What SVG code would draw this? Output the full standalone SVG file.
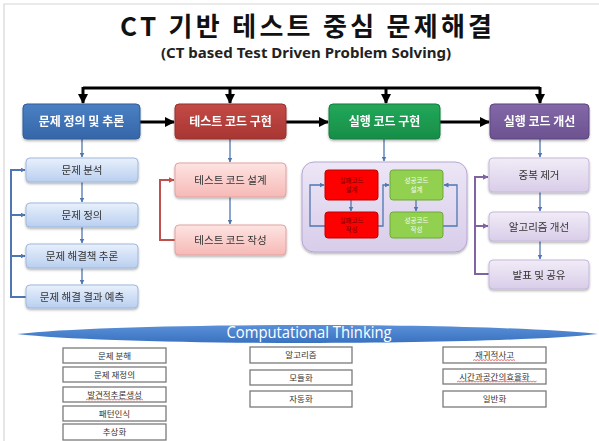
<svg xmlns="http://www.w3.org/2000/svg" width="599" height="441" viewBox="0 0 599 441">
<style>
.kr{font-family:"Noto Sans CJK KR","Noto Sans",sans-serif}
.title{font-size:26px;font-weight:700;fill:#111}
.sub{font-family:"Noto Sans","Open Sans",sans-serif;font-size:13.5px;font-weight:700;fill:#222}
.hd{font-size:12px;font-weight:700;fill:#fff;text-anchor:middle}
.sb{font-size:10.5px;fill:#333;text-anchor:middle}
.tiny{font-size:6.5px;text-anchor:middle}
.bt{font-size:8.5px;fill:#333;text-anchor:middle}
.bbox{fill:#fff;stroke:#7a7a7a;stroke-width:1.3}
.thick{fill:none;stroke:#000;stroke-width:3}
.bl{fill:none;stroke:#4f76b0;stroke-width:1.3}
.blf{fill:none;stroke:#4f76b0;stroke-width:2}
.rdf{fill:none;stroke:#c0504d;stroke-width:2}
.pf{fill:none;stroke:#8064a2;stroke-width:2}
.wavy{fill:none;stroke:#e03030;stroke-width:0.7}
</style>
<defs>
<marker id="ah" viewBox="0 0 10 10" refX="9" refY="5" markerWidth="10" markerHeight="10" markerUnits="userSpaceOnUse" orient="auto"><path d="M0,0 L10,5 L0,10 z" fill="#000"/></marker>
<marker id="ab" viewBox="0 0 10 10" refX="9" refY="5" markerWidth="5" markerHeight="5" markerUnits="userSpaceOnUse" orient="auto"><path d="M0,0 L10,5 L0,10 z" fill="#4f76b0"/></marker>
<marker id="ar" viewBox="0 0 10 10" refX="9" refY="5" markerWidth="6" markerHeight="6" markerUnits="userSpaceOnUse" orient="auto"><path d="M0,0 L10,5 L0,10 z" fill="#c0504d"/></marker>
<marker id="ap" viewBox="0 0 10 10" refX="9" refY="5" markerWidth="6" markerHeight="6" markerUnits="userSpaceOnUse" orient="auto"><path d="M0,0 L10,5 L0,10 z" fill="#8064a2"/></marker>
<linearGradient id="gBlueH" x1="0" y1="0" x2="0" y2="1"><stop offset="0" stop-color="#4a80c4"/><stop offset="1" stop-color="#3566a8"/></linearGradient>
<linearGradient id="gRedH" x1="0" y1="0" x2="0" y2="1"><stop offset="0" stop-color="#c44a46"/><stop offset="1" stop-color="#a83632"/></linearGradient>
<linearGradient id="gGreenH" x1="0" y1="0" x2="0" y2="1"><stop offset="0" stop-color="#22a85a"/><stop offset="1" stop-color="#178e48"/></linearGradient>
<linearGradient id="gPurH" x1="0" y1="0" x2="0" y2="1"><stop offset="0" stop-color="#8468a8"/><stop offset="1" stop-color="#6c5290"/></linearGradient>
<linearGradient id="gBlueS" x1="0" y1="0" x2="0" y2="1"><stop offset="0" stop-color="#e8f0fc"/><stop offset="1" stop-color="#b9cff0"/></linearGradient>
<linearGradient id="gPinkS" x1="0" y1="0" x2="0" y2="1"><stop offset="0" stop-color="#fde4e2"/><stop offset="1" stop-color="#f6b9b6"/></linearGradient>
<linearGradient id="gPurS" x1="0" y1="0" x2="0" y2="1"><stop offset="0" stop-color="#f1ecf7"/><stop offset="1" stop-color="#d9cde9"/></linearGradient>
<linearGradient id="gCont" x1="0" y1="0" x2="0" y2="1"><stop offset="0" stop-color="#ece6f6"/><stop offset="1" stop-color="#d8cdea"/></linearGradient>
<linearGradient id="gEll" x1="0" y1="0" x2="0" y2="1"><stop offset="0" stop-color="#5a90d8"/><stop offset="1" stop-color="#3a72c0"/></linearGradient>
<filter id="sh" x="-10%" y="-10%" width="120%" height="140%"><feDropShadow dx="0" dy="1.5" stdDeviation="1.2" flood-color="#000" flood-opacity="0.3"/></filter>
</defs>
<rect width="599" height="441" fill="#fff"/>
<path d="M4,441 V4 H599" fill="none" stroke="#d6d6d6" stroke-width="1.2"/>

<g id="title">
<text class="kr title" x="120" y="36" textLength="372" lengthAdjust="spacing">CT 기반 테스트 중심 문제해결</text>
<text class="sub" x="161" y="58" textLength="290" lengthAdjust="spacingAndGlyphs">(CT based Test Driven Problem Solving)</text>
</g>

<g id="container" filter="url(#sh)">
<rect x="302" y="162" width="165" height="90" rx="12" fill="url(#gCont)" stroke="#b6a6d2"/>
</g>

<g id="connectors">
<path class="thick" d="M83,88 H540"/>
<path class="thick" d="M83,87 V103" marker-end="url(#ah)"/>
<path class="thick" d="M230,87 V103" marker-end="url(#ah)"/>
<path class="thick" d="M386,87 V103" marker-end="url(#ah)"/>
<path class="thick" d="M540,87 V103" marker-end="url(#ah)"/>
<path class="thick" d="M140,122 H174" marker-end="url(#ah)"/>
<path class="thick" d="M286,122 H328" marker-end="url(#ah)"/>
<path class="thick" d="M440,122 H489" marker-end="url(#ah)"/>
<path class="bl" d="M82,139 V157" marker-end="url(#ab)"/>
<path class="bl" d="M82,182 V202" marker-end="url(#ab)"/>
<path class="bl" d="M82,227 V243" marker-end="url(#ab)"/>
<path class="bl" d="M82,268 V284" marker-end="url(#ab)"/>
<path class="blf" d="M26,297 H11 V170 H25" marker-end="url(#ab)"/>
<path class="blf" d="M11,215 H25" marker-end="url(#ab)"/>
<path class="blf" d="M11,256 H25" marker-end="url(#ab)"/>
<path class="bl" d="M230,139 V162" marker-end="url(#ab)"/>
<path class="bl" d="M230,197 V224" marker-end="url(#ab)"/>
<path class="rdf" d="M175,240 H160 V180 H174" marker-end="url(#ar)"/>
<path class="bl" d="M384,139 V161" marker-end="url(#ab)"/>
<path class="bl" d="M351,200 V211" marker-end="url(#ab)"/>
<path class="bl" d="M416,200 V211" marker-end="url(#ab)"/>
<path class="bl" d="M325,226 H310 V185 H324" marker-end="url(#ab)"/>
<path class="bl" d="M378,226 H383 V185 H389" marker-end="url(#ab)"/>
<path class="bl" d="M443,226 H457 V185 H444" marker-end="url(#ab)"/>
<path class="bl" d="M540,139 V157" marker-end="url(#ab)"/>
<path class="bl" d="M540,192 V211" marker-end="url(#ab)"/>
<path class="bl" d="M540,241 V259" marker-end="url(#ab)"/>
<path class="pf" d="M489,274 H475 V177 H488" marker-end="url(#ap)"/>
<path class="pf" d="M475,226 H488" marker-end="url(#ap)"/>
</g>

<g id="h-define" filter="url(#sh)">
<rect x="23" y="104" width="117" height="35" rx="4" fill="url(#gBlueH)" stroke="#2f5c98"/>
<text class="kr hd" x="81.5" y="126">문제 정의 및 추론</text>
</g>
<g id="h-test" filter="url(#sh)">
<rect x="175" y="104" width="111" height="35" rx="4" fill="url(#gRedH)" stroke="#943030"/>
<text class="kr hd" x="230.5" y="126">테스트 코드 구현</text>
</g>
<g id="h-impl" filter="url(#sh)">
<rect x="329" y="104" width="111" height="35" rx="4" fill="url(#gGreenH)" stroke="#147a3e"/>
<text class="kr hd" x="384.5" y="126">실행 코드 구현</text>
</g>
<g id="h-improve" filter="url(#sh)">
<rect x="490" y="104" width="99" height="35" rx="4" fill="url(#gPurH)" stroke="#5c4580"/>
<text class="kr hd" x="539.5" y="126">실행 코드 개선</text>
</g>

<g id="b-analysis" filter="url(#sh)">
<rect x="26" y="158" width="112" height="24" rx="4" fill="url(#gBlueS)" stroke="#9fb9de"/>
<text class="kr sb" x="82" y="174">문제 분석</text>
</g>
<g id="b-definition" filter="url(#sh)">
<rect x="26" y="203" width="112" height="24" rx="4" fill="url(#gBlueS)" stroke="#9fb9de"/>
<text class="kr sb" x="82" y="219">문제 정의</text>
</g>
<g id="b-solution" filter="url(#sh)">
<rect x="26" y="244" width="112" height="24" rx="4" fill="url(#gBlueS)" stroke="#9fb9de"/>
<text class="kr sb" x="82" y="260">문제 해결책 추론</text>
</g>
<g id="b-predict" filter="url(#sh)">
<rect x="26" y="285" width="112" height="23" rx="4" fill="url(#gBlueS)" stroke="#9fb9de"/>
<text class="kr sb" x="82" y="300.5">문제 해결 결과 예측</text>
</g>

<g id="p-design" filter="url(#sh)">
<rect x="175" y="163" width="111" height="34" rx="4" fill="url(#gPinkS)" stroke="#e2a3a0"/>
<text class="kr sb" x="230.5" y="184">테스트 코드 설계</text>
</g>
<g id="p-write" filter="url(#sh)">
<rect x="175" y="225" width="111" height="30" rx="4" fill="url(#gPinkS)" stroke="#e2a3a0"/>
<text class="kr sb" x="230.5" y="244">테스트 코드 작성</text>
</g>

<g id="fail-design">
<rect x="325" y="170" width="53" height="30" rx="3" fill="#ff0000" stroke="#c00000"/>
<text class="kr tiny" x="351.5" y="183" fill="#7a0000">실패코드</text>
<text class="kr tiny" x="351.5" y="192" fill="#7a0000">설계</text>
</g>
<g id="fail-write">
<rect x="325" y="212" width="53" height="26" rx="3" fill="#ff0000" stroke="#c00000"/>
<text class="kr tiny" x="351.5" y="223" fill="#7a0000">실패코드</text>
<text class="kr tiny" x="351.5" y="232" fill="#7a0000">작성</text>
</g>
<g id="pass-design">
<rect x="390" y="170" width="53" height="30" rx="3" fill="#92d050" stroke="#6fa83a"/>
<text class="kr tiny" x="416.5" y="183" fill="#f6fbef">성공코드</text>
<text class="kr tiny" x="416.5" y="192" fill="#f6fbef">설계</text>
</g>
<g id="pass-write">
<rect x="390" y="212" width="53" height="26" rx="3" fill="#92d050" stroke="#6fa83a"/>
<text class="kr tiny" x="416.5" y="223" fill="#f6fbef">성공코드</text>
<text class="kr tiny" x="416.5" y="232" fill="#f6fbef">작성</text>
</g>

<g id="v-dedup" filter="url(#sh)">
<rect x="489" y="158" width="100" height="34" rx="4" fill="url(#gPurS)" stroke="#c6b8da"/>
<text class="kr sb" x="539" y="179">중복 제거</text>
</g>
<g id="v-algo" filter="url(#sh)">
<rect x="489" y="212" width="100" height="29" rx="4" fill="url(#gPurS)" stroke="#c6b8da"/>
<text class="kr sb" x="539" y="230.5">알고리즘 개선</text>
</g>
<g id="v-share" filter="url(#sh)">
<rect x="489" y="260" width="100" height="29" rx="4" fill="url(#gPurS)" stroke="#c6b8da"/>
<text class="kr sb" x="539" y="278.5">발표 및 공유</text>
</g>

<g id="ct-banner">
<path d="M17,334 C120,322 490,322 598,334 C490,346 120,346 17,334 z" fill="url(#gEll)"/>
<text x="309" y="338" font-family="Open Sans, sans-serif" font-size="15.5" fill="#fff" text-anchor="middle" textLength="165" lengthAdjust="spacingAndGlyphs">Computational Thinking</text>
</g>

<g id="ct1"><rect class="bbox" x="63" y="348" width="103" height="15"/><text class="kr bt" x="114.5" y="358.5">문제 분해</text></g>
<g id="ct2"><rect class="bbox" x="63" y="367" width="103" height="15"/><text class="kr bt" x="114.5" y="377.5">문제 재정의</text></g>
<g id="ct3"><rect class="bbox" x="63" y="387" width="103" height="15"/><text class="kr bt" x="114.5" y="397.5">발견적추론생성</text><path class="wavy" d="M86,400 l1.5,-0.8 l1.5,0.8 l1.5,-0.8 l1.5,0.8 l1.5,-0.8 l1.5,0.8 l1.5,-0.8 l1.5,0.8 l1.5,-0.8 l1.5,0.8 l1.5,-0.8 l1.5,0.8 l1.5,-0.8 l1.5,0.8 l1.5,-0.8 l1.5,0.8 l1.5,-0.8 l1.5,0.8 l1.5,-0.8 l1.5,0.8 l1.5,-0.8 l1.5,0.8 l1.5,-0.8 l1.5,0.8 l1.5,-0.8 l1.5,0.8 l1.5,-0.8 l1.5,0.8 l1.5,-0.8 l1.5,0.8 l1.5,-0.8 l1.5,0.8 l1.5,-0.8 l1.5,0.8 l1.5,-0.8 l1.5,0.8 l1.5,-0.8 l1.5,0.8"/></g>
<g id="ct4"><rect class="bbox" x="63" y="406" width="103" height="15"/><text class="kr bt" x="114.5" y="416.5">패턴인식</text></g>
<g id="ct5"><rect class="bbox" x="63" y="424" width="103" height="16"/><text class="kr bt" x="114.5" y="435">추상화</text></g>
<g id="ct6"><rect class="bbox" x="250" y="347" width="102" height="16"/><text class="kr bt" x="301" y="358">알고리즘</text></g>
<g id="ct7"><rect class="bbox" x="250" y="370" width="102" height="15"/><text class="kr bt" x="301" y="380.5">모듈화</text></g>
<g id="ct8"><rect class="bbox" x="250" y="391" width="102" height="16"/><text class="kr bt" x="301" y="402">자동화</text></g>
<g id="ct9"><rect class="bbox" x="443" y="347" width="103" height="16"/><text class="kr bt" x="494.5" y="358">재귀적사고</text><path class="wavy" d="M473,360.5 l1.5,-0.8 l1.5,0.8 l1.5,-0.8 l1.5,0.8 l1.5,-0.8 l1.5,0.8 l1.5,-0.8 l1.5,0.8 l1.5,-0.8 l1.5,0.8 l1.5,-0.8 l1.5,0.8 l1.5,-0.8 l1.5,0.8 l1.5,-0.8 l1.5,0.8 l1.5,-0.8 l1.5,0.8 l1.5,-0.8 l1.5,0.8 l1.5,-0.8 l1.5,0.8 l1.5,-0.8 l1.5,0.8 l1.5,-0.8 l1.5,0.8 l1.5,-0.8 l1.5,0.8"/></g>
<g id="ct10"><rect class="bbox" x="443" y="369" width="103" height="15"/><text class="kr bt" x="494.5" y="379.5">시간과공간의효율화</text><path class="wavy" d="M457,382 l1.5,-0.8 l1.5,0.8 l1.5,-0.8 l1.5,0.8 l1.5,-0.8 l1.5,0.8 l1.5,-0.8 l1.5,0.8 l1.5,-0.8 l1.5,0.8 l1.5,-0.8 l1.5,0.8 l1.5,-0.8 l1.5,0.8 l1.5,-0.8 l1.5,0.8 l1.5,-0.8 l1.5,0.8 l1.5,-0.8 l1.5,0.8 l1.5,-0.8 l1.5,0.8 l1.5,-0.8 l1.5,0.8 l1.5,-0.8 l1.5,0.8 l1.5,-0.8 l1.5,0.8 l1.5,-0.8 l1.5,0.8 l1.5,-0.8 l1.5,0.8 l1.5,-0.8 l1.5,0.8 l1.5,-0.8 l1.5,0.8 l1.5,-0.8 l1.5,0.8 l1.5,-0.8 l1.5,0.8 l1.5,-0.8 l1.5,0.8 l1.5,-0.8 l1.5,0.8 l1.5,-0.8 l1.5,0.8 l1.5,-0.8 l1.5,0.8 l1.5,-0.8 l1.5,0.8 l1.5,-0.8 l1.5,0.8 l1.5,-0.8"/></g>
<g id="ct11"><rect class="bbox" x="443" y="391" width="103" height="16"/><text class="kr bt" x="494.5" y="402">일반화</text></g>
</svg>
